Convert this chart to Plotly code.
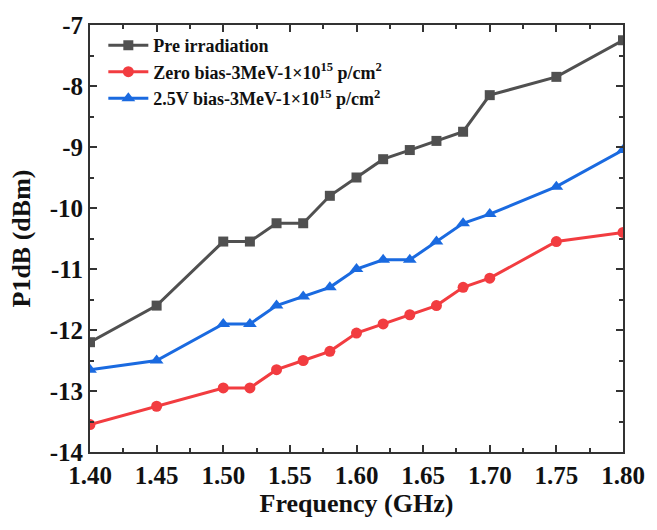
import plotly.graph_objects as go

freq = [1.40, 1.45, 1.50, 1.52, 1.54, 1.56, 1.58, 1.60, 1.62, 1.64, 1.66, 1.68, 1.70, 1.75, 1.80]
pre = [-12.2, -11.6, -10.55, -10.55, -10.25, -10.25, -9.8, -9.5, -9.2, -9.05, -8.9, -8.75, -8.15, -7.85, -7.25]
zero_bias = [-13.55, -13.25, -12.95, -12.95, -12.65, -12.5, -12.35, -12.05, -11.9, -11.75, -11.6, -11.3, -11.15, -10.55, -10.4]
bias_25 = [-12.65, -12.5, -11.9, -11.9, -11.6, -11.45, -11.3, -11.0, -10.85, -10.85, -10.55, -10.25, -10.1, -9.65, -9.05]

names = ["<b>Pre irradiation</b>",
         "<b>Zero bias-3MeV-1×10<sup>15</sup> p/cm<sup>2</sup></b>",
         "<b>2.5V bias-3MeV-1×10<sup>15</sup> p/cm<sup>2</sup></b>"]
x_ticks = [1.40, 1.45, 1.50, 1.55, 1.60, 1.65, 1.70, 1.75, 1.80]
y_ticks = [-14, -13, -12, -11, -10, -9, -8, -7]

font = "Liberation Serif"
fig = go.Figure()
fig.add_trace(go.Scatter(x=freq, y=pre, name=names[0], mode="lines+markers",
                         line=dict(color="#505050", width=3),
                         marker=dict(symbol="square", size=10, color="#505050")))
fig.add_trace(go.Scatter(x=freq, y=zero_bias, name=names[1], mode="lines+markers",
                         line=dict(color="#f23c40", width=3),
                         marker=dict(symbol="circle", size=11, color="#f23c40")))
fig.add_trace(go.Scatter(x=freq, y=bias_25, name=names[2], mode="lines+markers",
                         line=dict(color="#1a6ae0", width=3),
                         marker=dict(symbol="triangle-up", size=12, color="#1a6ae0")))

axis_common = dict(showgrid=False, zeroline=False, showline=True, linecolor="#333333",
                   linewidth=2, mirror="ticks", ticks="inside", ticklen=7, tickwidth=1.5,
                   tickcolor="#333333",
                   tickfont=dict(family=font, size=25, color="#111111", weight="bold"))

fig.update_layout(
    width=657, height=530,
    margin=dict(l=90, r=27, t=16, b=78),
    paper_bgcolor="white", plot_bgcolor="white",
    font=dict(family=font, color="#111111"),
    xaxis=dict(range=[1.40, 1.80], tickvals=x_ticks, ticktext=[f"{v:.2f}" for v in x_ticks],
               minor=dict(ticks="inside", ticklen=4, tickwidth=1.5, tickcolor="#333333", dtick=0.025,
                          tick0=1.40),
               title=dict(text="Frequency (GHz)", font=dict(family=font, size=26, weight="bold"), standoff=2),
               **axis_common),
    yaxis=dict(range=[-14, -7], tickvals=y_ticks, ticktext=[str(v) for v in y_ticks],
               minor=dict(ticks="inside", ticklen=4, tickwidth=1.5, tickcolor="#333333", dtick=0.5,
                          tick0=-14),
               title=dict(text="P1dB (dBm)", font=dict(family=font, size=26, weight="bold"), standoff=12),
               **axis_common),
    legend=dict(x=0.025, y=0.995, xanchor="left", yanchor="top", bgcolor="rgba(0,0,0,0)",
                font=dict(family=font, size=18, color="#111111"), tracegroupgap=0, itemwidth=40),
)

fig.write_html("out.html")
